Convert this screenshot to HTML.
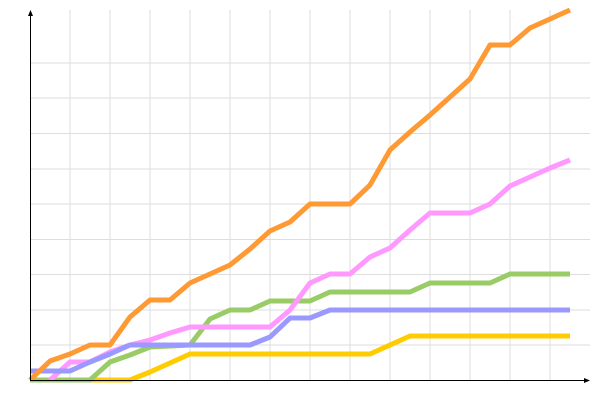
<!DOCTYPE html><html><head><style>body{margin:0;background:#fff}</style></head><body>
<svg width="600" height="400" xmlns="http://www.w3.org/2000/svg">
<g stroke="#dddddd" stroke-width="1">
<line x1="70" y1="10" x2="70" y2="380"/><line x1="110" y1="10" x2="110" y2="380"/><line x1="150" y1="10" x2="150" y2="380"/><line x1="190" y1="10" x2="190" y2="380"/><line x1="230" y1="10" x2="230" y2="380"/><line x1="270" y1="10" x2="270" y2="380"/><line x1="310" y1="10" x2="310" y2="380"/><line x1="350" y1="10" x2="350" y2="380"/><line x1="390" y1="10" x2="390" y2="380"/><line x1="430" y1="10" x2="430" y2="380"/><line x1="470" y1="10" x2="470" y2="380"/><line x1="510" y1="10" x2="510" y2="380"/><line x1="550" y1="10" x2="550" y2="380"/>
<line x1="30" y1="345" x2="590" y2="345"/><line x1="30" y1="310" x2="590" y2="310"/><line x1="30" y1="274.5" x2="590" y2="274.5"/><line x1="30" y1="239.5" x2="590" y2="239.5"/><line x1="30" y1="204" x2="590" y2="204"/><line x1="30" y1="169" x2="590" y2="169"/><line x1="30" y1="133.5" x2="590" y2="133.5"/><line x1="30" y1="98" x2="590" y2="98"/><line x1="30" y1="63" x2="590" y2="63"/>
</g>
<g fill="none" stroke-width="5" stroke-linejoin="round">
<polyline stroke="#ffcc00" points="30,380 130,380 150,372 170,363 190,354 370,354 390,345 410,336 570,336"/>
<polyline stroke="#99cc66" points="30,380 90,380 110,362 130,355 150,347 190,345 210,319 230,310 250,310 270,301 310,301 330,292 410,292 430,283 490,283 510,274 570,274"/>
<polyline stroke="#ff99ff" points="50,380 70,362 90,362 110,352 130,345 150,340 170,333 190,327 270,327 290,310 310,283 330,274 350,274 370,257 390,248 410,230 430,213 470,213 490,204 510,186 530,177 550,168 570,160"/>
<polyline stroke="#9999ff" points="30,371 70,371 90,362 110,354 130,345 250,345 270,337 290,318 310,318 330,310 570,310"/>
<polyline stroke="#ff9933" points="30,380 50,361 70,354 90,345 110,345 130,317 150,300 170,300 190,283 210,274 230,265 250,249 270,231 290,222 310,204 350,204 370,185 390,150 410,132 430,115 450,97 470,79 490,45 510,45 530,28 550,19 570,10"/>
</g>
<g stroke="#000" stroke-width="1">
<line x1="30.5" y1="12" x2="30.5" y2="381"/><line x1="30" y1="380.5" x2="588" y2="380.5"/>
</g>
<polygon points="30.5,10 28,16 33,16" fill="#000"/>
<polygon points="590,380.5 584,378 584,383" fill="#000"/>
</svg>
</body></html>
